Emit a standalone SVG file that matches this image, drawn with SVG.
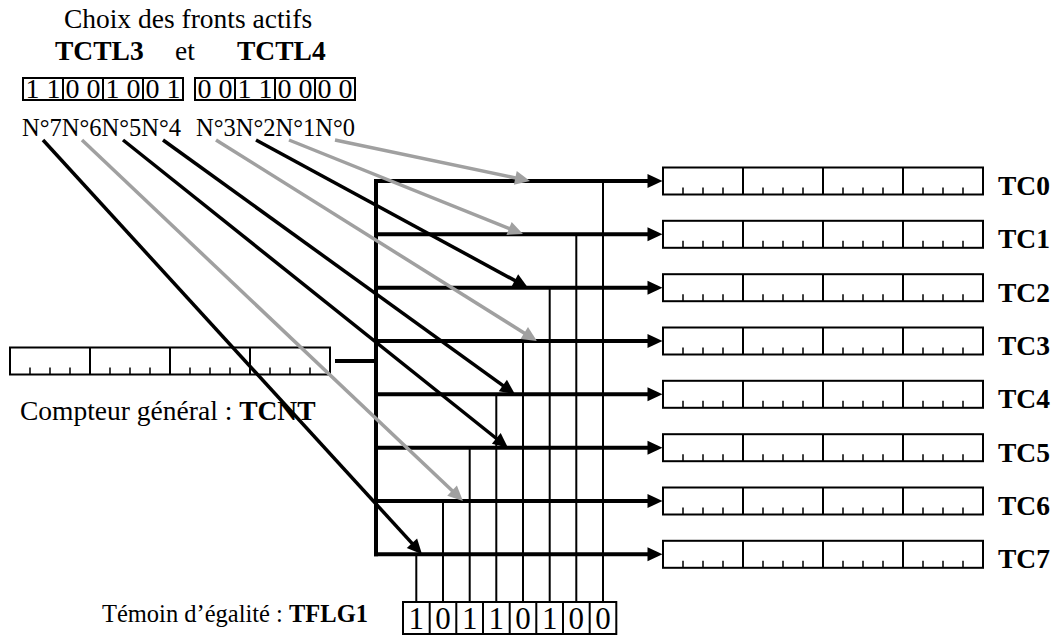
<svg xmlns="http://www.w3.org/2000/svg" width="1053" height="636" viewBox="0 0 1053 636">
<style>
text{font-family:"Liberation Serif","Times New Roman",serif;fill:#000}
.b{font-weight:bold}
.box{fill:#fff;stroke:#000;stroke-width:2}
.thin{stroke:#000;stroke-width:2;fill:none}
.tick{stroke:#000;stroke-width:1.5}
.bus{stroke:#000;stroke-width:4;fill:none}
.blk{stroke:#000;stroke-width:3.5;fill:none}
.gry{stroke:#a0a0a0;stroke-width:3.5;fill:none}
.lbl{font-size:27.5px}
.bit{font-size:28px;text-anchor:middle}
.flag{font-size:31px;text-anchor:middle}
</style>
<defs>
<marker id="ah" markerUnits="userSpaceOnUse" viewBox="0 0 15 14" markerWidth="15" markerHeight="14" refX="5" refY="7" orient="auto" overflow="visible"><path d="M0,0 L15,7 L0,14 z" fill="#000"/></marker>
<marker id="ahg" markerUnits="userSpaceOnUse" viewBox="0 0 15 14" markerWidth="15" markerHeight="14" refX="5" refY="7" orient="auto" overflow="visible"><path d="M0,0 L15,7 L0,14 z" fill="#a0a0a0"/></marker>
<g id="reg">
<rect class="box" x="0" y="0" width="320" height="27"/>
<path class="thin" d="M80,0V27M160,0V27M240,0V27"/>
<path class="tick" d="M20,20V27M40,20V27M60,20V27M100,20V27M120,20V27M140,20V27M180,20V27M200,20V27M220,20V27M260,20V27M280,20V27M300,20V27"/>
</g>
</defs>
<rect width="1053" height="636" fill="#fff"/>

<g id="header">
<text class="lbl" x="188" y="28" text-anchor="middle">Choix des fronts actifs</text>
<text class="lbl b" x="55" y="60">TCTL3</text>
<text class="lbl" x="175" y="60">et</text>
<text class="lbl b" x="237" y="60">TCTL4</text>
</g>

<g id="tctl3">
<rect class="box" x="23" y="78" width="160" height="22"/>
<path class="thin" d="M63,78V100M103,78V100M143,78V100"/>
<text class="bit" x="43" y="97.5">1 1</text>
<text class="bit" x="83" y="97.5">0 0</text>
<text class="bit" x="123" y="97.5">1 0</text>
<text class="bit" x="163" y="97.5">0 1</text>
<text x="22" y="136" font-size="24.5">N°7N°6N°5N°4</text>
</g>

<g id="tctl4">
<rect class="box" x="195" y="78" width="160" height="22"/>
<path class="thin" d="M235,78V100M275,78V100M315,78V100"/>
<text class="bit" x="215" y="97.5">0 0</text>
<text class="bit" x="255" y="97.5">1 1</text>
<text class="bit" x="295" y="97.5">0 0</text>
<text class="bit" x="335" y="97.5">0 0</text>
<text x="196" y="136" font-size="24.5">N°3N°2N°1N°0</text>
</g>

<g id="tcnt">
<use href="#reg" x="10" y="347.5"/>
<text x="20" y="420" font-size="27.5">Compteur général : <tspan class="b">TCNT</tspan></text>
</g>

<g id="tc0"><use href="#reg" x="663" y="167.5"/><text class="lbl b" x="998" y="195">TC0</text></g>
<g id="tc1"><use href="#reg" x="663" y="220.8"/><text class="lbl b" x="998" y="248.3">TC1</text></g>
<g id="tc2"><use href="#reg" x="663" y="274.2"/><text class="lbl b" x="998" y="301.7">TC2</text></g>
<g id="tc3"><use href="#reg" x="663" y="327.5"/><text class="lbl b" x="998" y="355">TC3</text></g>
<g id="tc4"><use href="#reg" x="663" y="380.8"/><text class="lbl b" x="998" y="408.3">TC4</text></g>
<g id="tc5"><use href="#reg" x="663" y="434.2"/><text class="lbl b" x="998" y="461.7">TC5</text></g>
<g id="tc6"><use href="#reg" x="663" y="487.5"/><text class="lbl b" x="998" y="515">TC6</text></g>
<g id="tc7"><use href="#reg" x="663" y="540.8"/><text class="lbl b" x="998" y="568.3">TC7</text></g>

<g id="tflg1">
<rect class="box" x="403" y="602" width="213.3" height="32"/>
<path class="thin" d="M429.7,602V634M456.3,602V634M483,602V634M509.7,602V634M536.3,602V634M563,602V634M589.7,602V634"/>
<text class="flag" x="416.3" y="628.5">1</text>
<text class="flag" x="443" y="628.5">0</text>
<text class="flag" x="469.7" y="628.5">1</text>
<text class="flag" x="496.3" y="628.5">1</text>
<text class="flag" x="523" y="628.5">0</text>
<text class="flag" x="549.7" y="628.5">1</text>
<text class="flag" x="576.3" y="628.5">0</text>
<text class="flag" x="603" y="628.5">0</text>
<text x="368" y="622" font-size="24.5" text-anchor="end">Témoin d’égalité : <tspan class="b">TFLG1</tspan></text>
</g>

<g id="connectors">
<path class="bus" d="M376,179V556.3"/>
<path class="bus" d="M335,361H376"/>
<path class="bus" marker-end="url(#ah)" d="M374,181H652.5"/>
<path class="bus" marker-end="url(#ah)" d="M374,234.3H652.5"/>
<path class="bus" marker-end="url(#ah)" d="M374,287.7H652.5"/>
<path class="bus" marker-end="url(#ah)" d="M374,341H652.5"/>
<path class="bus" marker-end="url(#ah)" d="M374,394.3H652.5"/>
<path class="bus" marker-end="url(#ah)" d="M374,447.7H652.5"/>
<path class="bus" marker-end="url(#ah)" d="M374,501H652.5"/>
<path class="bus" marker-end="url(#ah)" d="M374,554.3H652.5"/>
<path class="thin" d="M603,181V602M576.3,234.3V602M549.7,287.7V602M523,341V602M496.3,394.3V602M469.7,447.7V602M443,501V602M416.3,554.3V602"/>
<path class="gry" marker-end="url(#ahg)" d="M335,140L520.2,178.9"/>
<path class="gry" marker-end="url(#ahg)" d="M289,140L513.7,230.3"/>
<path class="blk" marker-end="url(#ah)" d="M256,140L519.2,282.9"/>
<path class="gry" marker-end="url(#ahg)" d="M216,140L528.5,335.7"/>
<path class="blk" marker-end="url(#ah)" d="M163,140L506.9,388.4"/>
<path class="blk" marker-end="url(#ah)" d="M123,140L500.2,441.5"/>
<path class="gry" marker-end="url(#ahg)" d="M82,140L455.7,494.1"/>
<path class="blk" marker-end="url(#ah)" d="M43,140L415.3,546.9"/>
</g>
</svg>
